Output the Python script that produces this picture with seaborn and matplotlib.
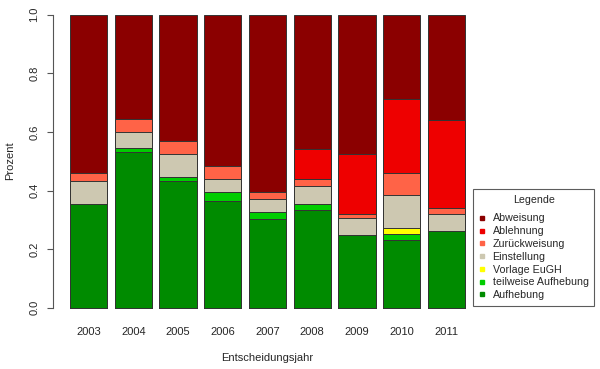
import pandas as pd
import matplotlib
matplotlib.use('Agg')
import matplotlib.pyplot as plt
from matplotlib.lines import Line2D
import seaborn as sns

# values (share per year, bottom -> top)
years = ['2003', '2004', '2005', '2006', '2007', '2008', '2009', '2010', '2011']
aufhebung = [0.354, 0.530, 0.433, 0.364, 0.303, 0.333, 0.247, 0.231, 0.261]
teilweise = [0.000, 0.014, 0.014, 0.031, 0.024, 0.021, 0.000, 0.021, 0.000]
vorlage = [0.000, 0.000, 0.000, 0.000, 0.000, 0.000, 0.000, 0.019, 0.000]
einstellung = [0.078, 0.057, 0.077, 0.045, 0.045, 0.062, 0.058, 0.115, 0.059]
zurueck = [0.028, 0.042, 0.044, 0.045, 0.023, 0.022, 0.014, 0.075, 0.021]
ablehnung = [0.000, 0.000, 0.000, 0.000, 0.000, 0.103, 0.205, 0.251, 0.300]
abweisung = [0.540, 0.357, 0.432, 0.515, 0.605, 0.459, 0.476, 0.288, 0.359]

categories = ['Aufhebung', 'teilweise Aufhebung', 'Vorlage EuGH', 'Einstellung',
              'Zurückweisung', 'Ablehnung', 'Abweisung']
colors = ['#008B00', '#00CD00', '#FFFF00', '#CDC8B1', '#FF6347', '#EE0000', '#8B0000']

df = pd.DataFrame({'Jahr': years, 'Aufhebung': aufhebung, 'teilweise Aufhebung': teilweise,
                   'Vorlage EuGH': vorlage, 'Einstellung': einstellung,
                   'Zurückweisung': zurueck, 'Ablehnung': ablehnung, 'Abweisung': abweisung})
# cumulative shares for the overlaid (stacked) bars
cum = df[categories].cumsum(axis=1)
cum['Jahr'] = df['Jahr']

sns.set_style('white')
plt.rcParams['font.family'] = ['Liberation Sans', 'DejaVu Sans']

fig = plt.figure(figsize=(6, 3.69), dpi=100)
W, H = 600, 369
ax = fig.add_axes([53.3 / W, (H - 307.7) / H, (470 - 53.3) / W, 293 / H])

# draw from the top category down so lower segments sit on top
for cat, col in reversed(list(zip(categories, colors))):
    sns.barplot(data=cum, x='Jahr', y=cat, color=col, width=0.83, errorbar=None,
                edgecolor='#333333', linewidth=0.7, saturation=1, ax=ax, clip_on=False)

ax.set_xlim(-0.787, 8.525)
ax.set_ylim(0, 1)
ax.set_xlabel('')
ax.set_ylabel('')
for s in ['top', 'right', 'bottom']:
    ax.spines[s].set_visible(False)
ax.spines['left'].set_color('#555555')
ax.spines['left'].set_linewidth(0.8)
ax.spines['left'].set_bounds(0, 1)
ax.set_yticks([0, 0.2, 0.4, 0.6, 0.8, 1.0])
ax.set_yticklabels(['0.0', '0.2', '0.4', '0.6', '0.8', '1.0'], rotation=90, va='center')
ax.tick_params(axis='y', length=4, width=0.8, color='#555555', pad=6, labelsize=8,
               left=True)
ax.tick_params(axis='x', length=0, pad=14, labelsize=8)

fig.text(267 / W, 1 - 358 / H, 'Entscheidungsjahr', ha='center', va='center', fontsize=8)
fig.text(10 / W, 1 - 161 / H, 'Prozent', ha='center', va='center', rotation=90, fontsize=8)

handles = [Line2D([], [], marker='s', linestyle='none', markersize=3.5,
                  markerfacecolor=c, markeredgecolor=c) for c in colors]
leg = fig.legend(handles[::-1], categories[::-1], title='Legende',
                 loc='upper left', bbox_to_anchor=(473.3 / W, 1 - 189 / H),
                 fontsize=7.7, title_fontsize=7.7, frameon=True, fancybox=False,
                 handlelength=0.5, handletextpad=0.75, labelspacing=0.26,
                 borderpad=0.55, borderaxespad=0)
leg.get_frame().set_edgecolor('#333333')
leg.get_frame().set_linewidth(0.8)
# extra gap between legend title and entries
leg._legend_box.sep = 6.2

fig.savefig('out.png', dpi=100)
